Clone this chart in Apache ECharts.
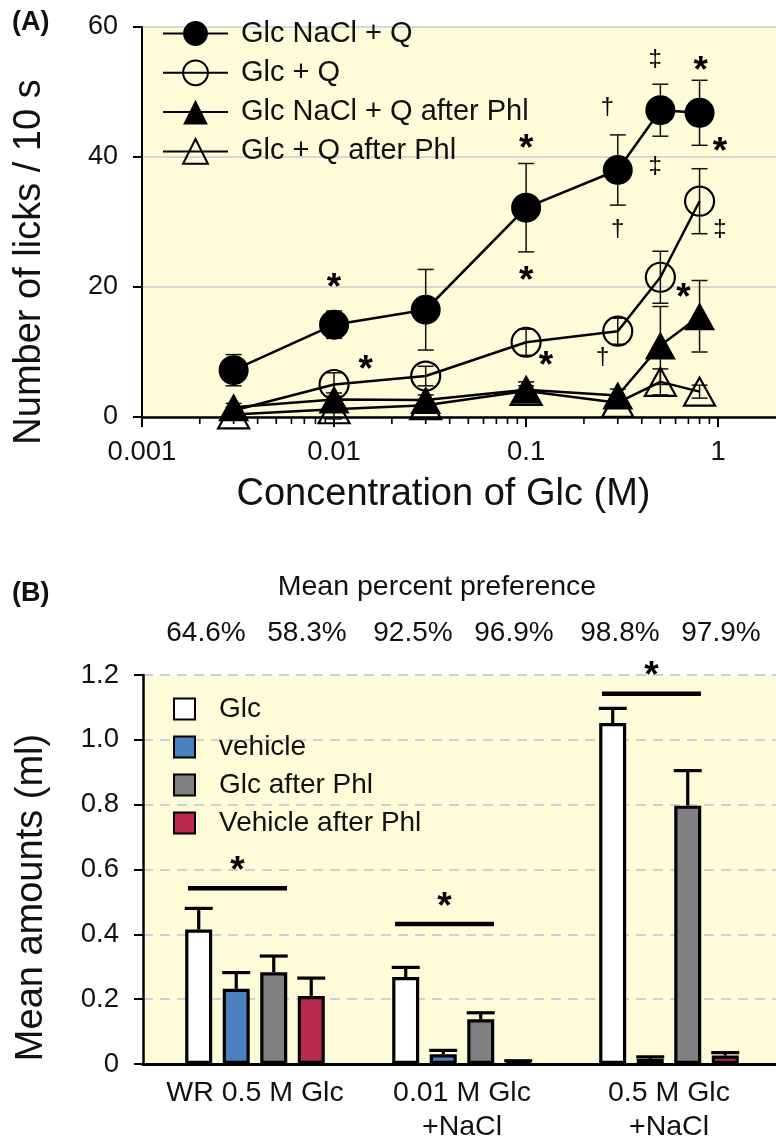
<!DOCTYPE html>
<html><head><meta charset="utf-8">
<script src="https://cdn.jsdelivr.net/npm/echarts@6/dist/echarts.min.js"></script>
<style>html,body{margin:0;padding:0;background:#fff}#c{width:776px;height:1144px}</style>
</head><body><div id="c"></div>
<script>
const FONT = 'Liberation Sans, Arial, Helvetica, sans-serif';
const BG = '#fefcd8';

// ---------- Panel A data ----------
const concA = [0.003, 0.01, 0.03, 0.1, 0.3, 0.5, 0.8];
const glcNaClQ = [7.2, 14.2, 16.5, 32.2, 38.0, 47.2, 46.8];
const glcNaClQErr = [2.4, 2.1, 6.2, 6.8, 5.4, 4.0, 5.0];
const glcQ = [1.0, 5.0, 6.3, 11.5, 13.2, 21.5, 33.2];
const glcQErr = [0.5, 1.8, 1.5, 2.0, 2.0, 4.0, 5.0];
const glcNaClQPhl = [1.5, 2.7, 2.6, 4.2, 3.3, 11.0, 15.5];
const glcNaClQPhlErr = [0.6, 1.0, 0.8, 1.2, 1.0, 6.0, 5.5];
const glcQPhl = [0.4, 1.2, 1.8, 4.0, 2.2, 5.4, 3.9];
const glcQPhlErr = [0.3, 1.5, 0.5, 0.8, 0.8, 2.0, 1.0];
const namesA = ['Glc NaCl + Q', 'Glc + Q', 'Glc NaCl + Q after Phl', 'Glc + Q after Phl'];
const xTickLabelsA = ['0.001', '0.01', '0.1', '1'];
const yTicksA = [0, 20, 40, 60];
// significance marks: [concentration, licks, mark]
const annotA = [
  [0.01, 20.8, '*'], [0.0146, 8.3, '*'], [0.1, 42.3, '*'], [0.1, 22.0, '*'],
  [0.127, 8.8, '*'], [0.265, 47.7, '†'], [0.3, 28.8, '†'], [0.25, 9.2, '†'],
  [0.47, 55.0, '‡'], [0.47, 38.6, '‡'], [0.81, 54.2, '*'], [1.02, 41.8, '*'],
  [1.02, 28.9, '‡'], [0.66, 19.3, '*']
];
// minor log ticks (axis decoration)
const minorTicksA = [];
[0.001, 0.01, 0.1].forEach(d => { for (let m = 2; m <= 9; m++) minorTicksA.push(+(d * m).toPrecision(3)); });

// ---------- Panel B data ----------
const catsB = ['WR 0.5 M Glc', '0.01 M Glc\n+NaCl', '0.5 M Glc\n+NaCl'];
const namesB = ['Glc', 'vehicle', 'Glc after Phl', 'Vehicle after Phl'];
const colorsB = ['#ffffff', '#4a7fc0', '#808080', '#b8284f'];
const glcB = [0.415, 0.268, 1.052];
const glcBErr = [0.065, 0.030, 0.045];
const vehB = [0.232, 0.030, 0.016];
const vehBErr = [0.050, 0.012, 0.006];
const glcPhlB = [0.283, 0.138, 0.797];
const glcPhlBErr = [0.050, 0.020, 0.108];
const vehPhlB = [0.210, 0.008, 0.026];
const vehPhlBErr = [0.055, 0.002, 0.009];
const prefTitleB = 'Mean percent preference';
const prefB = ['64.6%', '58.3%', '92.5%', '96.9%', '98.8%', '97.9%'];
const sigB = [[0, 0.542, '*'], [1, 0.432, '*'], [2, 1.142, '*']];
const yTicksB = [0, 0.2, 0.4, 0.6, 0.8, 1.0, 1.2];

const valsB = [glcB, vehB, glcPhlB, vehPhlB];
const errsB = [glcBErr, vehBErr, glcPhlBErr, vehPhlBErr];

const BAR_W = 27, BAR_STEP = 37.5;

function lineSeries(i, vals, symbol, size, filled) {
  return {
    type: 'line', name: namesA[i], xAxisIndex: 0, yAxisIndex: 0,
    // the Glc + Q point at the lowest concentration is hidden under the triangles in the figure
    data: concA.map((c, k) => (i === 1 && k === 0) ? { value: [c, vals[k]], symbol: 'none' } : [c, vals[k]]),
    symbol, symbolSize: size, showSymbol: true, z: 4,
    lineStyle: { color: '#000', width: 2.5 },
    itemStyle: { color: filled ? '#000' : 'transparent', borderColor: '#000', borderWidth: filled ? 0 : 2.2 },
    emphasis: { disabled: true }, silent: true
  };
}
function errSeriesA(vals, errs) {
  return {
    type: 'custom', xAxisIndex: 0, yAxisIndex: 0, z: 3, silent: true,
    data: concA.map((c, k) => [c, vals[k], errs[k]]),
    encode: { x: 0, y: 1 },
    renderItem(params, api) {
      const x = api.value(0), y = api.value(1), e = api.value(2);
      const t = api.coord([x, y + e]), b = api.coord([x, y - e]);
      const h = 8, st = { stroke: '#111', lineWidth: 1.5 };
      return { type: 'group', children: [
        { type: 'line', shape: { x1: t[0], y1: t[1], x2: b[0], y2: b[1] }, style: st },
        { type: 'line', shape: { x1: t[0] - h, y1: t[1], x2: t[0] + h, y2: t[1] }, style: st },
        { type: 'line', shape: { x1: b[0] - h, y1: b[1], x2: b[0] + h, y2: b[1] }, style: st }
      ]};
    }
  };
}
function markText(x, y, txt) {
  const star = txt === '*';
  const fs = star ? 37 : 24;
  return { type: 'text', x: x, y: y + (star ? fs * 0.2 : 0),
    style: { text: txt, fill: '#000', font: (star ? 'bold ' : '') + fs + 'px ' + FONT, align: 'center', verticalAlign: 'middle' } };
}

const barSeries = valsB.map((vals, k) => ({
  type: 'bar', name: namesB[k], xAxisIndex: 1, yAxisIndex: 1,
  data: vals.map((v, g) => [g, v]),
  barWidth: BAR_W, barGap: '39%', z: 2,
  itemStyle: { color: colorsB[k], borderColor: '#000', borderWidth: 3.2 },
  emphasis: { disabled: true }, silent: true
}));

const errDataB = [];
valsB.forEach((vals, k) => vals.forEach((v, g) => errDataB.push([g, v, errsB[k][g], k])));

const option = {
  animation: false,
  textStyle: { fontFamily: FONT },
  title: [
    { text: '(A)', left: 12, top: 9, padding: 0, textStyle: { fontSize: 27, fontWeight: 'bold', color: '#111', fontFamily: FONT } },
    { text: '(B)', left: 12, top: 580, padding: 0, textStyle: { fontSize: 27, fontWeight: 'bold', color: '#111', fontFamily: FONT } }
  ],
  legend: [
    { data: namesA, orient: 'vertical', left: 162, top: 18, padding: 0, itemWidth: 65, itemHeight: 31, itemGap: 8.3,
      selectedMode: false, textStyle: { fontSize: 29, color: '#111', fontFamily: FONT, lineHeight: 31, padding: [0, 0, 0, 8] } },
    { data: namesB, orient: 'vertical', left: 173, top: 695, padding: 0, itemWidth: 21, itemHeight: 21, itemGap: 10, icon: 'rect',
      selectedMode: false, textStyle: { fontSize: 28, color: '#111', fontFamily: FONT, lineHeight: 28, padding: [0, 0, 0, 19] } }
  ],
  grid: [
    { left: 142, top: 27, width: 641, height: 390, show: true, backgroundColor: BG, borderWidth: 0 },
    { left: 143, top: 675, width: 633, height: 394, show: true, backgroundColor: BG, borderWidth: 0 }
  ],
  xAxis: [
    { type: 'log', gridIndex: 0, logBase: 10, min: 0.001, max: 2,
      axisLine: { lineStyle: { color: '#000', width: 2.5 } },
      axisTick: { show: true, length: 10, lineStyle: { color: '#000', width: 2 } },
      splitLine: { show: false },
      axisLabel: { fontSize: 27.5, color: '#111', margin: 21, showMaxLabel: false, fontFamily: FONT,
        formatter: v => { const i = Math.round(Math.log10(v)) + 3; return xTickLabelsA[i] !== undefined ? xTickLabelsA[i] : ''; } },
      name: 'Concentration of Glc (M)', nameLocation: 'middle', nameGap: 59,
      nameTextStyle: { fontSize: 38, color: '#111', fontFamily: FONT, padding: [0, 31, 0, 0] } },
    { type: 'value', gridIndex: 1, min: -0.541, max: 2.517,
      axisLine: { onZero: false, lineStyle: { color: '#000', width: 3 } },
      axisTick: { show: false }, splitLine: { show: false },
      axisLabel: { customValues: [0, 1, 2], fontSize: 28.5, lineHeight: 34, color: '#111', margin: 12, fontFamily: FONT,
        formatter: v => catsB[Math.round(v)] } }
  ],
  yAxis: [
    { type: 'value', gridIndex: 0, min: 0, max: 60, interval: 20,
      axisLine: { show: true, onZero: false, lineStyle: { color: '#000', width: 2 } },
      axisTick: { show: true, length: 9, lineStyle: { color: '#000', width: 2 } },
      splitLine: { show: true, lineStyle: { color: '#c9ccd9', width: 1.5 } },
      axisLabel: { fontSize: 27, color: '#111', margin: 24, fontFamily: FONT,
        formatter: v => yTicksA.indexOf(v) >= 0 ? String(v) : '' },
      name: 'Number of licks / 10 s', nameLocation: 'middle', nameGap: 93,
      nameTextStyle: { fontSize: 38, color: '#111', fontFamily: FONT, padding: [0, 80, 0, 0] } },
    { type: 'value', gridIndex: 1, min: 0, max: 1.2, interval: 0.2,
      axisLine: { show: true, onZero: false, lineStyle: { color: '#000', width: 2.5 } },
      axisTick: { show: true, length: 9, lineStyle: { color: '#000', width: 2 } },
      splitLine: { show: true, lineStyle: { color: '#cdd0db', width: 2, type: [10, 7] } },
      axisLabel: { fontSize: 27.5, color: '#111', margin: 24, fontFamily: FONT,
        formatter: v => { const t = yTicksB.find(x => Math.abs(x - v) < 1e-6); return t === undefined ? '' : (t === 0 ? '0' : t.toFixed(1)); } },
      name: 'Mean amounts (ml)', nameLocation: 'middle', nameGap: 92,
      nameTextStyle: { fontSize: 38, color: '#111', fontFamily: FONT, padding: [0, 56, 0, 0] } }
  ],
  series: [
    errSeriesA(glcNaClQ, glcNaClQErr),
    errSeriesA(glcQ, glcQErr),
    errSeriesA(glcNaClQPhl, glcNaClQPhlErr),
    errSeriesA(glcQPhl, glcQPhlErr),
    lineSeries(0, glcNaClQ, 'circle', 30, true),
    lineSeries(1, glcQ, 'circle', 29, false),
    lineSeries(2, glcNaClQPhl, 'triangle', [31, 28], true),
    lineSeries(3, glcQPhl, 'triangle', [31, 28], false),
    { type: 'custom', xAxisIndex: 0, yAxisIndex: 0, silent: true, z: 5,
      data: minorTicksA.map(v => [v, 0]), encode: { x: 0, y: 1 },
      renderItem(params, api) {
        const p = api.coord([api.value(0), 0]);
        return { type: 'line', shape: { x1: p[0], y1: p[1], x2: p[0], y2: p[1] + 7 }, style: { stroke: '#000', lineWidth: 1.6 } };
      } },
    { type: 'custom', xAxisIndex: 0, yAxisIndex: 0, silent: true, z: 6,
      data: annotA.map(a => [a[0], a[1]]), encode: { x: 0, y: 1 },
      renderItem(params, api) {
        const p = api.coord([api.value(0), api.value(1)]);
        return markText(p[0], p[1], annotA[params.dataIndex][2]);
      } },
    ...barSeries,
    { type: 'custom', xAxisIndex: 1, yAxisIndex: 1, silent: true, z: 3,
      data: errDataB, encode: { x: 0, y: 1 },
      renderItem(params, api) {
        const g = api.value(0), v = api.value(1), e = api.value(2), k = api.value(3);
        const b = api.coord([g, v]), t = api.coord([g, v + e]);
        const x = b[0] + (k - 1.5) * BAR_STEP, h = 14, st = { stroke: '#000', lineWidth: 3.2 };
        return { type: 'group', children: [
          { type: 'line', shape: { x1: x, y1: b[1], x2: x, y2: t[1] }, style: st },
          { type: 'line', shape: { x1: x - h, y1: t[1], x2: x + h, y2: t[1] }, style: st }
        ]};
      } },
    { type: 'custom', xAxisIndex: 1, yAxisIndex: 1, silent: true, z: 4,
      data: sigB.map(s => [s[0], s[1]]), encode: { x: 0, y: 1 },
      renderItem(params, api) {
        const p = api.coord([api.value(0), api.value(1)]);
        const c = p[0] - 17.5;
        return { type: 'group', children: [
          { type: 'line', shape: { x1: p[0] - 67, y1: p[1], x2: p[0] + 32, y2: p[1] }, style: { stroke: '#000', lineWidth: 4.5 } },
          markText(c, p[1] - 24, sigB[params.dataIndex][2])
        ]};
      } },
    { type: 'custom', xAxisIndex: 1, yAxisIndex: 1, silent: true, z: 4,
      data: prefB.map((s, i) => [Math.floor(i / 2), 1.2, i % 2]), encode: { x: 0, y: 1 },
      renderItem(params, api) {
        const p = api.coord([api.value(0), 1.2]);
        const side = api.value(2);
        const children = [{ type: 'text', x: p[0] + (side ? 52 : -49), y: p[1] - 42,
          style: { text: prefB[params.dataIndex], fill: '#111', font: '28px ' + FONT, align: 'center', verticalAlign: 'middle' } }];
        if (params.dataIndex === 2) {
          children.push({ type: 'text', x: p[0] - 25, y: p[1] - 88,
            style: { text: prefTitleB, fill: '#111', font: '28.5px ' + FONT, align: 'center', verticalAlign: 'middle' } });
        }
        return { type: 'group', children };
      } }
  ]
};

const chart = echarts.init(document.getElementById('c'), null, { renderer: 'canvas' });
chart.setOption(option);
</script>
</body></html>
